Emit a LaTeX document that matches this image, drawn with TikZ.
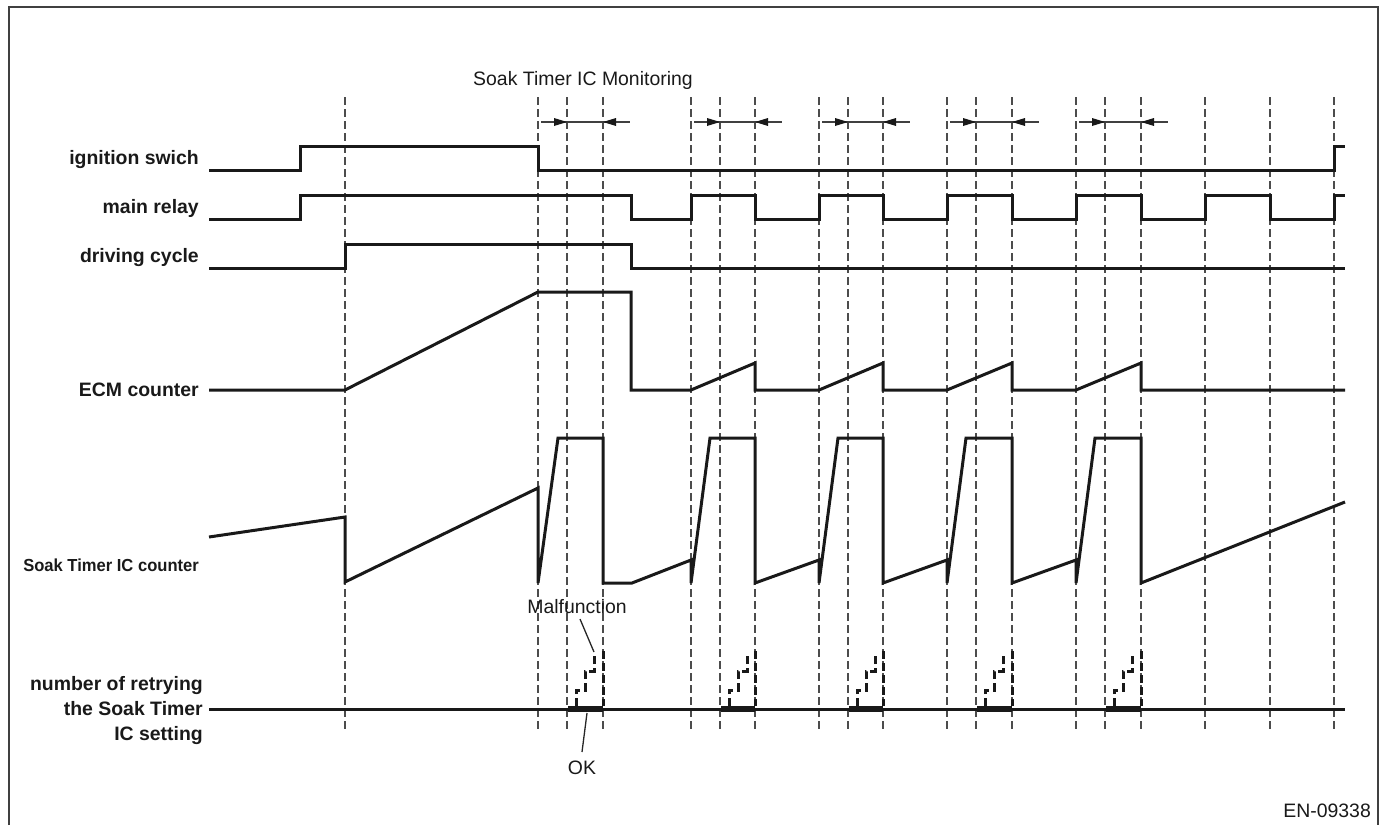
\documentclass[tikz,border=0pt]{standalone}
\usepackage{fontspec}
\setmainfont{Liberation Sans}
\begin{document}
\begin{tikzpicture}[x=1bp,y=-1bp,
  sig/.style={line width=3bp, draw=black!90, line join=miter},
  gridl/.style={line width=1.3bp, draw=black!70, dash pattern=on 7.5bp off 4.5bp},
  lab/.style={font=\fontsize{19.5}{24}\selectfont\bfseries, anchor=base east, inner sep=0pt, text=black!90},
  txt/.style={font=\fontsize{19.5}{24}\selectfont, inner sep=0pt, text=black!90},
  mon/.style={line width=1.3bp, draw=black!75},
  head/.style={fill=black!90},
  stair/.style={line width=3bp, draw=black!90, dash pattern=on 8bp off 4bp},
  bar/.style={line width=6bp, draw=black!90},
  lead/.style={line width=1.3bp, draw=black!85},
]
\useasboundingbox (0,0) rectangle (1380,825);
\draw[line width=1.5bp, black!75] (9,825) -- (9,7) -- (1378,7) -- (1378,825);

% dashed time markers
\foreach \x in {345,538,567,603,691,720,755,819,848,883,947,976,1012,1076,1105,1141,1205,1270,1334}
  \draw[gridl] (\x,97) -- (\x,733);

% monitoring arrows
\foreach \a/\b/\c in {538/567/603,691/720/755,819/848/883,947/976/1012,1076/1105/1141}{
  \draw[mon] (\a+3,122) -- (\c+27,122);
  \fill[head] (\b,122) -- (\b-13,118) -- (\b-13,126) -- cycle;
  \fill[head] (\c,122) -- (\c+13,118) -- (\c+13,126) -- cycle;
}

% ignition switch
\draw[sig] (209,170) -- (300,170) -- (300,146) -- (538,146) -- (538,170) -- (1334,170) -- (1334,146) -- (1345,146);
% main relay
\draw[sig] (209,219) -- (300,219) -- (300,195) -- (631,195) -- (631,219) -- (691,219) -- (691,195) -- (755,195) -- (755,219) -- (819,219) -- (819,195) -- (883,195) -- (883,219) -- (947,219) -- (947,195) -- (1012,195) -- (1012,219) -- (1076,219) -- (1076,195) -- (1141,195) -- (1141,219) -- (1205,219) -- (1205,195) -- (1270,195) -- (1270,219) -- (1334,219) -- (1334,195) -- (1345,195);
% driving cycle
\draw[sig] (209,268) -- (345,268) -- (345,244) -- (631,244) -- (631,268) -- (1345,268);
% ECM counter
\draw[sig] (209,390) -- (345,390) -- (538,292) -- (631,292) -- (631,390) -- (691,390) -- (755,363) -- (755,390) -- (819,390) -- (883,363) -- (883,390) -- (947,390) -- (1012,363) -- (1012,390) -- (1076,390) -- (1141,363) -- (1141,390) -- (1345,390);
% Soak Timer IC counter
\draw[sig] (209,537) -- (345,517) -- (345,582) -- (538,488) -- (538,583) -- (558,438) -- (603,438) -- (603,583) -- (632,583) -- (691,560) -- (691,583) -- (710,438) -- (755,438) -- (755,583) -- (819,560) -- (819,583) -- (838,438) -- (883,438) -- (883,583) -- (947,560) -- (947,583) -- (966,438) -- (1012,438) -- (1012,583) -- (1076,560) -- (1076,583) -- (1095,438) -- (1141,438) -- (1141,583) -- (1345,502);

% retry line
\draw[sig] (209,709) -- (1345,709);
\foreach \a/\b in {567/603,720/755,848/883,976/1012,1105/1141}{
  \draw[bar] (\a+1,709) -- (\b,709);
  \draw[stair] (\a+9,706) -- (\a+9,690) -- (\a+18,690) -- (\a+18,671) -- (\a+27,671) -- (\a+27,652);
  \draw[stair] (\b,651) -- (\b,706);
}

% labels
\node[lab] (l1) at (199,164) {ignition swich};
\node[lab] (l2) at (199,213) {main relay};
\node[lab] (l3) at (199,262) {driving cycle};
\node[lab] (l4) at (199,396) {ECM counter};
\node[lab, font=\fontsize{17.5}{22}\selectfont\bfseries] (l5) at (199,571) {\scalebox{0.95}[1]{Soak Timer IC counter}};
\node[lab] (r1) at (203,690) {number of retrying};
\node[lab] (r2) at (203,715) {the Soak Timer};
\node[lab] (r3) at (203,740) {IC setting};

\node[txt, anchor=base west] (mon) at (473,85) {Soak Timer IC Monitoring};
\node[txt, anchor=base] (mal) at (577,613) {Malfunction};
\node[txt, anchor=base] (ok) at (582,774) {OK};
\node[txt, anchor=base east] (id) at (1371,817) {EN-09338};

\coordinate (m1) at (594,652);
\coordinate (m0) at (580,619);
\coordinate (o1) at (587,713);
\coordinate (o0) at (582,752);
\draw[lead] (m0) -- (m1);
\draw[lead] (o1) -- (o0);
\end{tikzpicture}
\end{document}
